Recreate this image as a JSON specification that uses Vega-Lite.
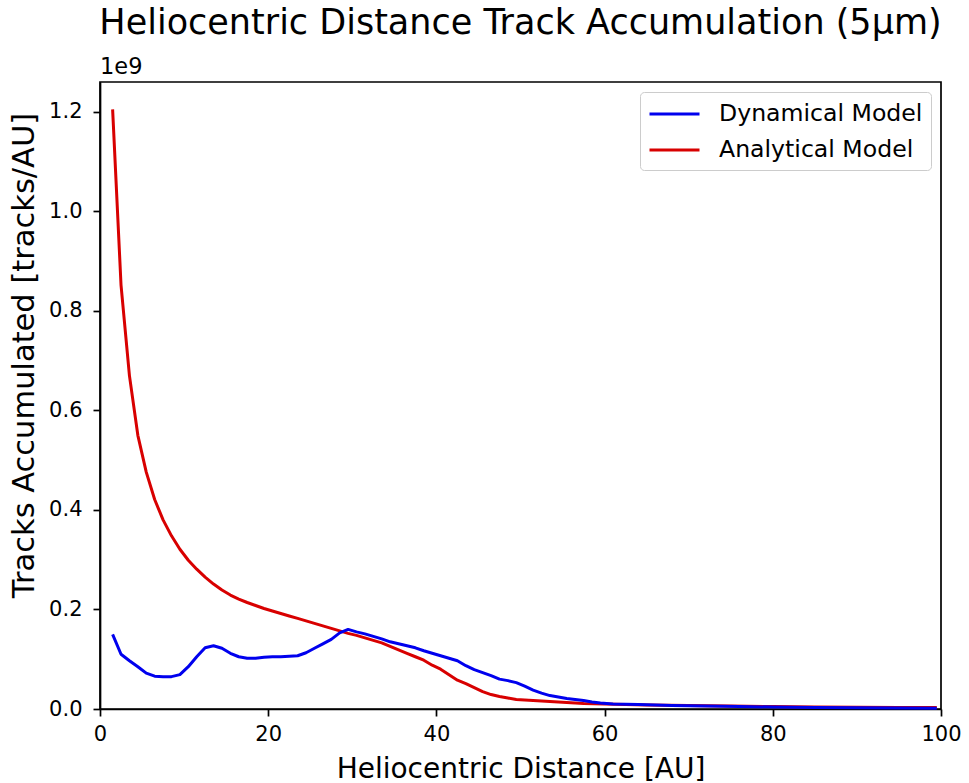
{
  "$schema": "https://vega.github.io/schema/vega-lite/v6.json",
  "autosize": {"type": "none"},
  "width": 841,
  "height": 627,
  "padding": {"left": 100, "top": 82, "right": 28, "bottom": 74},
  "background": "white",
  "title": {"text": "Heliocentric Distance Track Accumulation (5μm)", "fontSize": 35, "font": "DejaVu Sans", "fontWeight": "normal", "anchor": "middle", "frame": "group", "baseline": "alphabetic", "offset": -13, "color": "black"},
  "config": {
    "font": "DejaVu Sans",
    "view": {"stroke": "black", "strokeWidth": 1.7},
    "axis": {"grid": false, "domainColor": "black", "domainWidth": 1.7, "tickColor": "black", "tickWidth": 1.7, "tickSize": 7, "labelColor": "black", "labelFontSize": 21, "titleFontWeight": "normal", "titleColor": "black", "labelFlush": false}
  },
  "data": {"values": [
    {"r": 1.5, "tracks": 1.205e9, "model": "Analytical Model"},
    {"r": 2.5, "tracks": 0.852e9, "model": "Analytical Model"},
    {"r": 3.5, "tracks": 0.670e9, "model": "Analytical Model"},
    {"r": 4.5, "tracks": 0.550e9, "model": "Analytical Model"},
    {"r": 5.5, "tracks": 0.476e9, "model": "Analytical Model"},
    {"r": 6.5, "tracks": 0.421e9, "model": "Analytical Model"},
    {"r": 7.5, "tracks": 0.380e9, "model": "Analytical Model"},
    {"r": 8.5, "tracks": 0.348e9, "model": "Analytical Model"},
    {"r": 9.5, "tracks": 0.321e9, "model": "Analytical Model"},
    {"r": 10.5, "tracks": 0.299e9, "model": "Analytical Model"},
    {"r": 11.5, "tracks": 0.281e9, "model": "Analytical Model"},
    {"r": 12.5, "tracks": 0.265e9, "model": "Analytical Model"},
    {"r": 13.5, "tracks": 0.251e9, "model": "Analytical Model"},
    {"r": 14.5, "tracks": 0.239e9, "model": "Analytical Model"},
    {"r": 15.5, "tracks": 0.229e9, "model": "Analytical Model"},
    {"r": 16.5, "tracks": 0.221e9, "model": "Analytical Model"},
    {"r": 17.5, "tracks": 0.214e9, "model": "Analytical Model"},
    {"r": 18.5, "tracks": 0.208e9, "model": "Analytical Model"},
    {"r": 19.5, "tracks": 0.202e9, "model": "Analytical Model"},
    {"r": 20.5, "tracks": 0.197e9, "model": "Analytical Model"},
    {"r": 21.5, "tracks": 0.192e9, "model": "Analytical Model"},
    {"r": 22.5, "tracks": 0.187e9, "model": "Analytical Model"},
    {"r": 23.5, "tracks": 0.182e9, "model": "Analytical Model"},
    {"r": 24.5, "tracks": 0.177e9, "model": "Analytical Model"},
    {"r": 25.5, "tracks": 0.172e9, "model": "Analytical Model"},
    {"r": 26.5, "tracks": 0.167e9, "model": "Analytical Model"},
    {"r": 27.5, "tracks": 0.162e9, "model": "Analytical Model"},
    {"r": 28.5, "tracks": 0.157e9, "model": "Analytical Model"},
    {"r": 29.5, "tracks": 0.152e9, "model": "Analytical Model"},
    {"r": 30.5, "tracks": 0.148e9, "model": "Analytical Model"},
    {"r": 31.5, "tracks": 0.143e9, "model": "Analytical Model"},
    {"r": 32.5, "tracks": 0.138e9, "model": "Analytical Model"},
    {"r": 33.5, "tracks": 0.133e9, "model": "Analytical Model"},
    {"r": 34.5, "tracks": 0.126e9, "model": "Analytical Model"},
    {"r": 35.5, "tracks": 0.119e9, "model": "Analytical Model"},
    {"r": 36.5, "tracks": 0.112e9, "model": "Analytical Model"},
    {"r": 37.5, "tracks": 0.105e9, "model": "Analytical Model"},
    {"r": 38.5, "tracks": 0.098e9, "model": "Analytical Model"},
    {"r": 39.5, "tracks": 0.088e9, "model": "Analytical Model"},
    {"r": 40.5, "tracks": 0.080e9, "model": "Analytical Model"},
    {"r": 41.5, "tracks": 0.069e9, "model": "Analytical Model"},
    {"r": 42.5, "tracks": 0.058e9, "model": "Analytical Model"},
    {"r": 43.5, "tracks": 0.051e9, "model": "Analytical Model"},
    {"r": 44.5, "tracks": 0.043e9, "model": "Analytical Model"},
    {"r": 45.5, "tracks": 0.035e9, "model": "Analytical Model"},
    {"r": 46.5, "tracks": 0.029e9, "model": "Analytical Model"},
    {"r": 47.5, "tracks": 0.025e9, "model": "Analytical Model"},
    {"r": 48.5, "tracks": 0.022e9, "model": "Analytical Model"},
    {"r": 49.5, "tracks": 0.019e9, "model": "Analytical Model"},
    {"r": 50.5, "tracks": 0.018e9, "model": "Analytical Model"},
    {"r": 51.5, "tracks": 0.017e9, "model": "Analytical Model"},
    {"r": 53.5, "tracks": 0.015e9, "model": "Analytical Model"},
    {"r": 55.5, "tracks": 0.013e9, "model": "Analytical Model"},
    {"r": 57.5, "tracks": 0.011e9, "model": "Analytical Model"},
    {"r": 60, "tracks": 0.010e9, "model": "Analytical Model"},
    {"r": 65, "tracks": 0.008e9, "model": "Analytical Model"},
    {"r": 70, "tracks": 0.007e9, "model": "Analytical Model"},
    {"r": 75, "tracks": 0.006e9, "model": "Analytical Model"},
    {"r": 80, "tracks": 0.005e9, "model": "Analytical Model"},
    {"r": 85, "tracks": 0.004e9, "model": "Analytical Model"},
    {"r": 90, "tracks": 0.0035e9, "model": "Analytical Model"},
    {"r": 95, "tracks": 0.003e9, "model": "Analytical Model"},
    {"r": 99.5, "tracks": 0.0028e9, "model": "Analytical Model"},
    {"r": 1.5, "tracks": 0.150e9, "model": "Dynamical Model"},
    {"r": 2.5, "tracks": 0.110e9, "model": "Dynamical Model"},
    {"r": 3.5, "tracks": 0.097e9, "model": "Dynamical Model"},
    {"r": 4.5, "tracks": 0.085e9, "model": "Dynamical Model"},
    {"r": 5.5, "tracks": 0.072e9, "model": "Dynamical Model"},
    {"r": 6.5, "tracks": 0.066e9, "model": "Dynamical Model"},
    {"r": 7.5, "tracks": 0.065e9, "model": "Dynamical Model"},
    {"r": 8.5, "tracks": 0.065e9, "model": "Dynamical Model"},
    {"r": 9.5, "tracks": 0.069e9, "model": "Dynamical Model"},
    {"r": 10.5, "tracks": 0.085e9, "model": "Dynamical Model"},
    {"r": 11.5, "tracks": 0.105e9, "model": "Dynamical Model"},
    {"r": 12.5, "tracks": 0.123e9, "model": "Dynamical Model"},
    {"r": 13.5, "tracks": 0.127e9, "model": "Dynamical Model"},
    {"r": 14.5, "tracks": 0.122e9, "model": "Dynamical Model"},
    {"r": 15.5, "tracks": 0.112e9, "model": "Dynamical Model"},
    {"r": 16.5, "tracks": 0.105e9, "model": "Dynamical Model"},
    {"r": 17.5, "tracks": 0.102e9, "model": "Dynamical Model"},
    {"r": 18.5, "tracks": 0.102e9, "model": "Dynamical Model"},
    {"r": 19.5, "tracks": 0.104e9, "model": "Dynamical Model"},
    {"r": 20.5, "tracks": 0.105e9, "model": "Dynamical Model"},
    {"r": 21.5, "tracks": 0.105e9, "model": "Dynamical Model"},
    {"r": 22.5, "tracks": 0.106e9, "model": "Dynamical Model"},
    {"r": 23.5, "tracks": 0.107e9, "model": "Dynamical Model"},
    {"r": 24.5, "tracks": 0.113e9, "model": "Dynamical Model"},
    {"r": 25.5, "tracks": 0.122e9, "model": "Dynamical Model"},
    {"r": 26.5, "tracks": 0.131e9, "model": "Dynamical Model"},
    {"r": 27.5, "tracks": 0.140e9, "model": "Dynamical Model"},
    {"r": 28.5, "tracks": 0.153e9, "model": "Dynamical Model"},
    {"r": 29.5, "tracks": 0.160e9, "model": "Dynamical Model"},
    {"r": 30.5, "tracks": 0.155e9, "model": "Dynamical Model"},
    {"r": 31.5, "tracks": 0.151e9, "model": "Dynamical Model"},
    {"r": 32.5, "tracks": 0.146e9, "model": "Dynamical Model"},
    {"r": 33.5, "tracks": 0.141e9, "model": "Dynamical Model"},
    {"r": 34.5, "tracks": 0.135e9, "model": "Dynamical Model"},
    {"r": 35.5, "tracks": 0.131e9, "model": "Dynamical Model"},
    {"r": 36.5, "tracks": 0.127e9, "model": "Dynamical Model"},
    {"r": 37.5, "tracks": 0.123e9, "model": "Dynamical Model"},
    {"r": 38.5, "tracks": 0.117e9, "model": "Dynamical Model"},
    {"r": 39.5, "tracks": 0.112e9, "model": "Dynamical Model"},
    {"r": 40.5, "tracks": 0.107e9, "model": "Dynamical Model"},
    {"r": 41.5, "tracks": 0.102e9, "model": "Dynamical Model"},
    {"r": 42.5, "tracks": 0.097e9, "model": "Dynamical Model"},
    {"r": 43.5, "tracks": 0.087e9, "model": "Dynamical Model"},
    {"r": 44.5, "tracks": 0.079e9, "model": "Dynamical Model"},
    {"r": 45.5, "tracks": 0.073e9, "model": "Dynamical Model"},
    {"r": 46.5, "tracks": 0.067e9, "model": "Dynamical Model"},
    {"r": 47.5, "tracks": 0.060e9, "model": "Dynamical Model"},
    {"r": 48.5, "tracks": 0.057e9, "model": "Dynamical Model"},
    {"r": 49.5, "tracks": 0.053e9, "model": "Dynamical Model"},
    {"r": 50.5, "tracks": 0.046e9, "model": "Dynamical Model"},
    {"r": 51.5, "tracks": 0.038e9, "model": "Dynamical Model"},
    {"r": 52.5, "tracks": 0.032e9, "model": "Dynamical Model"},
    {"r": 53.5, "tracks": 0.027e9, "model": "Dynamical Model"},
    {"r": 54.5, "tracks": 0.024e9, "model": "Dynamical Model"},
    {"r": 55.5, "tracks": 0.021e9, "model": "Dynamical Model"},
    {"r": 56.5, "tracks": 0.019e9, "model": "Dynamical Model"},
    {"r": 57.5, "tracks": 0.017e9, "model": "Dynamical Model"},
    {"r": 58.5, "tracks": 0.014e9, "model": "Dynamical Model"},
    {"r": 59.5, "tracks": 0.012e9, "model": "Dynamical Model"},
    {"r": 61, "tracks": 0.010e9, "model": "Dynamical Model"},
    {"r": 64, "tracks": 0.009e9, "model": "Dynamical Model"},
    {"r": 68, "tracks": 0.007e9, "model": "Dynamical Model"},
    {"r": 72, "tracks": 0.006e9, "model": "Dynamical Model"},
    {"r": 76, "tracks": 0.005e9, "model": "Dynamical Model"},
    {"r": 80, "tracks": 0.004e9, "model": "Dynamical Model"},
    {"r": 85, "tracks": 0.003e9, "model": "Dynamical Model"},
    {"r": 90, "tracks": 0.0025e9, "model": "Dynamical Model"},
    {"r": 95, "tracks": 0.002e9, "model": "Dynamical Model"},
    {"r": 99.5, "tracks": 0.0015e9, "model": "Dynamical Model"}
  ]},
  "layer": [
    {
      "mark": {"type": "line", "strokeWidth": 3, "strokeJoin": "round", "strokeCap": "butt"},
      "encoding": {
        "x": {"field": "r", "type": "quantitative", "scale": {"domain": [0, 100], "nice": false, "zero": false},
              "axis": {"title": "Heliocentric Distance [AU]", "values": [0, 20, 40, 60, 80, 100], "labelPadding": 7, "titleFontSize": 28, "titleBaseline": "alphabetic", "titleY": 68}},
        "y": {"field": "tracks", "type": "quantitative", "scale": {"domain": [0, 1.26e9], "nice": false},
              "axis": {"title": "Tracks Accumulated [tracks/AU]", "values": [0, 2e8, 4e8, 6e8, 8e8, 1e9, 1.2e9], "labelExpr": "format(datum.value / 1e9, '.1f')", "labelPadding": 11, "titleFontSize": 30.5, "titleBaseline": "alphabetic", "titleX": -66.5, "titleY": 273}},
        "color": {"field": "model", "type": "nominal",
                  "scale": {"domain": ["Dynamical Model", "Analytical Model"], "range": ["#0000ee", "#d80000"]},
                  "legend": {"title": null, "orient": "top-right", "offset": 10, "symbolType": "M-1,0H3", "symbolSize": 625, "symbolStrokeWidth": 3, "labelFontSize": 23.6, "labelLimit": 400, "labelColor": "black", "labelOffset": 43, "strokeColor": "#cccccc", "cornerRadius": 4, "padding": 8, "rowPadding": 10, "fillColor": "white"}}
      }
    },
    {
      "data": {"values": [{"r": 0, "tracks": 1.26e9, "label": "1e9"}]},
      "mark": {"type": "text", "align": "left", "baseline": "alphabetic", "fontSize": 22.5, "dy": -8, "color": "black"},
      "encoding": {
        "x": {"field": "r", "type": "quantitative"},
        "y": {"field": "tracks", "type": "quantitative"},
        "text": {"field": "label"}
      }
    }
  ]
}
